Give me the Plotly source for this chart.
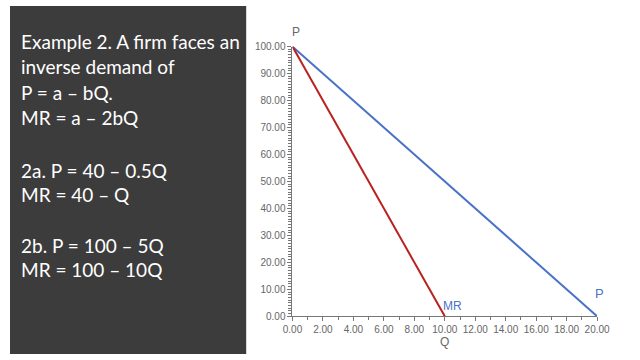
import plotly.graph_objects as go

# Data
q_demand = [0, 20]
p_demand = [100, 0]
q_mr = [0, 10]
p_mr = [100, 0]

text_lines = [
    ("Example 2. A firm faces an<br>inverse demand of", 50),
    ("P = a – bQ.", 89),
    ("MR = a – 2bQ", 115),
    ("2a. P = 40 – 0.5Q", 170),
    ("MR = 40 – Q", 195),
    ("2b. P = 100 – 5Q", 248),
    ("MR = 100 – 10Q", 273),
]

W, H = 640, 360
x0px, x1px = 293, 609
y0px, y1px = 321, 42

fig = go.Figure()
fig.add_trace(go.Scatter(x=q_demand, y=p_demand, mode="lines",
                         line=dict(color="#4a72c6", width=2), showlegend=False))
fig.add_trace(go.Scatter(x=q_mr, y=p_mr, mode="lines",
                         line=dict(color="#b8231f", width=2), showlegend=False))

axis_common = dict(
    showgrid=False, zeroline=False, showline=True, linecolor="#777777", linewidth=1,
    ticks="outside", tickcolor="#777777", ticklen=4, tickformat=".2f",
    tickfont=dict(family="Liberation Sans, Arial", size=10, color="#666666"),
)
fig.update_xaxes(range=[0, 20], dtick=2, tick0=0,
                 domain=[x0px / W, x1px / W],
                 minor=dict(dtick=1, ticks="outside", ticklen=3, tickcolor="#777777"),
                 **axis_common)
fig.update_yaxes(range=[0, 100], dtick=10, tick0=0,
                 domain=[(H - y0px) / H, (H - y1px) / H],
                 minor=dict(dtick=1, ticks="outside", ticklen=3, tickcolor="#777777"),
                 **axis_common)

annotations = []
for txt, ypx in text_lines:
    annotations.append(dict(text=txt, xref="paper", yref="paper", x=9 / W, y=(H - ypx) / H,
                            xanchor="left", yanchor="middle", align="left", showarrow=False,
                            font=dict(family="Lato, Open Sans", size=19, color="#ffffff")))
annotations += [
    dict(text="P", xref="paper", yref="paper", x=297 / W, y=(H - 27) / H, showarrow=False,
         xanchor="center", yanchor="middle", font=dict(family="Liberation Sans", size=12, color="#666666")),
    dict(text="Q", xref="paper", yref="paper", x=451 / W, y=(H - 348) / H, showarrow=False,
         xanchor="center", yanchor="middle", font=dict(family="Liberation Sans", size=12, color="#666666")),
    dict(text="MR", xref="paper", yref="paper", x=459 / W, y=(H - 310) / H, showarrow=False,
         xanchor="center", yanchor="middle", font=dict(family="Liberation Sans", size=12, color="#4a72c6")),
    dict(text="P", xref="paper", yref="paper", x=611 / W, y=(H - 297) / H, showarrow=False,
         xanchor="center", yanchor="middle", font=dict(family="Liberation Sans", size=13, color="#4a72c6")),
]

fig.update_layout(
    width=W, height=H, margin=dict(l=0, r=0, t=0, b=0),
    paper_bgcolor="#ffffff", plot_bgcolor="#ffffff",
    shapes=[dict(type="rect", xref="paper", yref="paper", x0=0, x1=245 / W, y0=0, y1=1,
                 fillcolor="#3c3c3c", line=dict(width=0), layer="below")],
    annotations=annotations,
)

fig.write_html("out.html")
